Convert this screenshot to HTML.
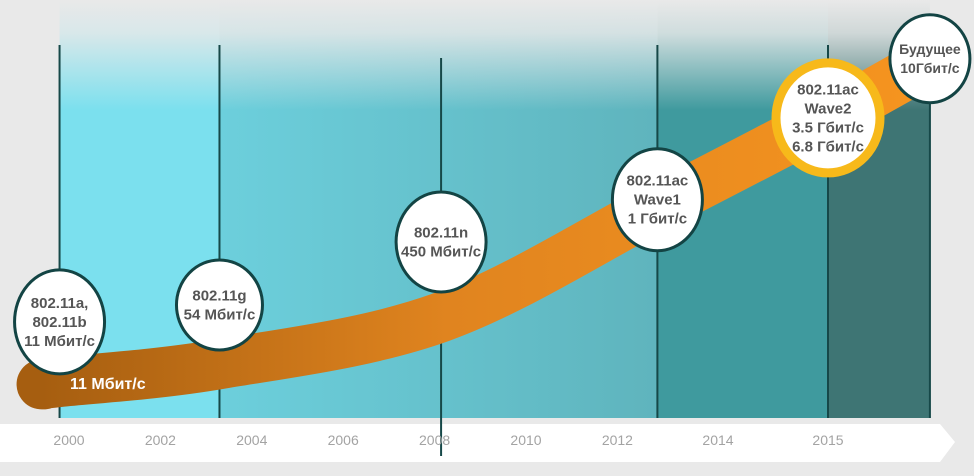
<!DOCTYPE html>
<html><head><meta charset="utf-8"><style>
html,body{margin:0;padding:0;background:#e9e9e9;}
svg{display:block;}
text{font-family:"Liberation Sans",sans-serif;}
</style></head><body>
<svg id="chart" width="974" height="476" viewBox="0 0 974 476">
<defs>
<linearGradient id="fadeTop" x1="0" y1="0" x2="0" y2="1">
<stop offset="0" stop-color="#e9e9e9" stop-opacity="1"/>
<stop offset="0.3" stop-color="#e9e9e9" stop-opacity="0.85"/>
<stop offset="1" stop-color="#e9e9e9" stop-opacity="0"/>
</linearGradient>
<linearGradient id="midGrad" x1="0" y1="0" x2="1" y2="0">
<stop offset="0" stop-color="#6ccfdc"/>
<stop offset="1" stop-color="#5fb4bd"/>
</linearGradient>
<linearGradient id="band" x1="0" y1="0" x2="1" y2="0">
<stop offset="0" stop-color="#a65e10"/>
<stop offset="0.45" stop-color="#e0841f"/>
<stop offset="1" stop-color="#f7951f"/>
</linearGradient>
</defs>
<rect x="0" y="0" width="974" height="476" fill="#e9e9e9"/>
<g id="panels"></g>
<rect x="0" y="0" width="974" height="110" fill="url(#fadeTop)"/>
<polygon points="0,424 940,424 955,442 940,462 0,462" fill="#ffffff"/>
<g id="lines"></g>
<g id="band-g"></g>
<g id="ticks"></g>
<g id="milestones"></g>
</svg>
<script>
const NS='http://www.w3.org/2000/svg';
const tickYears=[2000,2002,2004,2006,2008,2010,2012,2014,2015];
const milestoneYears=[1999.8,2003.3,2008.15,2012.8,2015,2016.87];
const milestoneRate=[1.3,1.66,3.0,3.9,5.64,6.9];
const milestoneLabels=[["802.11a,","802.11b","11 Мбит/с"],["802.11g","54 Мбит/с"],["802.11n","450 Мбит/с"],["802.11ac","Wave1","1 Гбит/с"],["802.11ac","Wave2","3.5 Гбит/с","6.8 Гбит/с"],["Будущее","10Гбит/с"]];
const curveYears=[1999.45,1999.8,2003.3,2008.15,2012.8,2015,2017.1];
const curveRate=[-0.03,0.02,0.4,1.4,3.75,5.64,7.0];
const xb=[[1999,23],[2012,617],[2014,718],[2015,828],[2017,937]];
function xs(y){for(let i=0;i<xb.length-1;i++){const a=xb[i],b=xb[i+1];if(y<=b[0]||i==xb.length-2){return a[1]+(y-a[0])*(b[1]-a[1])/(b[0]-a[0]);}}}
function ys(v){return 383-v*47;}
function el(t,a,p){const e=document.createElementNS(NS,t);for(const k in a)e.setAttribute(k,a[k]);p.appendChild(e);return e;}
const panels=document.getElementById('panels');
const x0=xs(milestoneYears[0]),x1=xs(milestoneYears[1]),x3=xs(milestoneYears[3]),x4=xs(milestoneYears[4]),x5=xs(milestoneYears[5]);
let p=el('rect',{x:x0,y:0,width:x1-x0,height:418,fill:'#7be0ee'},panels);

p=el('rect',{x:x1,y:0,width:x3-x1,height:418,fill:'url(#midGrad)'},panels);

p=el('rect',{x:x3,y:0,width:x4-x3,height:418,fill:'#3f9a9e'},panels);

p=el('rect',{x:x4,y:0,width:x5-x4,height:418,fill:'#3e7574'},panels);

const lines=document.getElementById('lines');
milestoneYears.forEach((yr,i)=>{
  const x=xs(yr);const top=i==2?58:45;const bot=i==2?456:418;
  const l=el('line',{x1:x,x2:x,y1:top,y2:bot,stroke:'#164848','stroke-width':2},lines);
  
  
});
const pts=curveYears.map((y,i)=>[xs(y),ys(curveRate[i])]);
let d='M'+pts[0][0]+','+pts[0][1];
for(let i=0;i<pts.length-1;i++){
  const p0=pts[Math.max(0,i-1)],p1=pts[i],p2=pts[i+1],p3=pts[Math.min(pts.length-1,i+2)];
  const c1=[p1[0]+(p2[0]-p0[0])/6,p1[1]+(p2[1]-p0[1])/6];
  const c2=[p2[0]-(p3[0]-p1[0])/6,p2[1]-(p3[1]-p1[1])/6];
  d+=' C'+c1[0]+','+c1[1]+' '+c2[0]+','+c2[1]+' '+p2[0]+','+p2[1];
}
const band=el('path',{d:d,fill:'none',stroke:'url(#band)','stroke-width':50,'stroke-linecap':'round'},document.getElementById('band-g'));


const bl=el('text',{x:70,y:389,fill:'#fff','font-size':16,'font-weight':'bold'},document.getElementById('band-g'));
bl.textContent='11 Мбит/с';


const ticks=document.getElementById('ticks');
tickYears.forEach(y=>{
  const x=y<=2012?69+(y-2000)*45.7:(y==2014?718:828);
  const t=el('text',{x:x,y:445,fill:'#a3a3a3','font-size':14,'text-anchor':'middle'},ticks);
  t.textContent=y;
  
  
});
const ms=document.getElementById('milestones');
const rx=[45,43,45,45,52,40],ry=[52,45,50,51,55,44];
milestoneYears.forEach((yr,i)=>{
  const g=el('g',{},ms);
  
  
  const cx=xs(yr),cy=ys(milestoneRate[i]);
  if(i==4)el('ellipse',{cx:cx,cy:cy,rx:rx[i],ry:ry[i],fill:'#fff',stroke:'#f7b91a','stroke-width':9},g);
  else el('ellipse',{cx:cx,cy:cy,rx:rx[i],ry:ry[i],fill:'#fff',stroke:'#134444','stroke-width':3},g);
  const L=milestoneLabels[i];const lh=19;const y0=cy-(L.length-1)*lh/2+5;
  L.forEach((s,j)=>{const t=el('text',{x:cx,y:y0+j*lh,'text-anchor':'middle',fill:'#555','font-size':i==5?14:15,'font-weight':'bold'},g);t.textContent=s;});
});
</script>
</body></html>
